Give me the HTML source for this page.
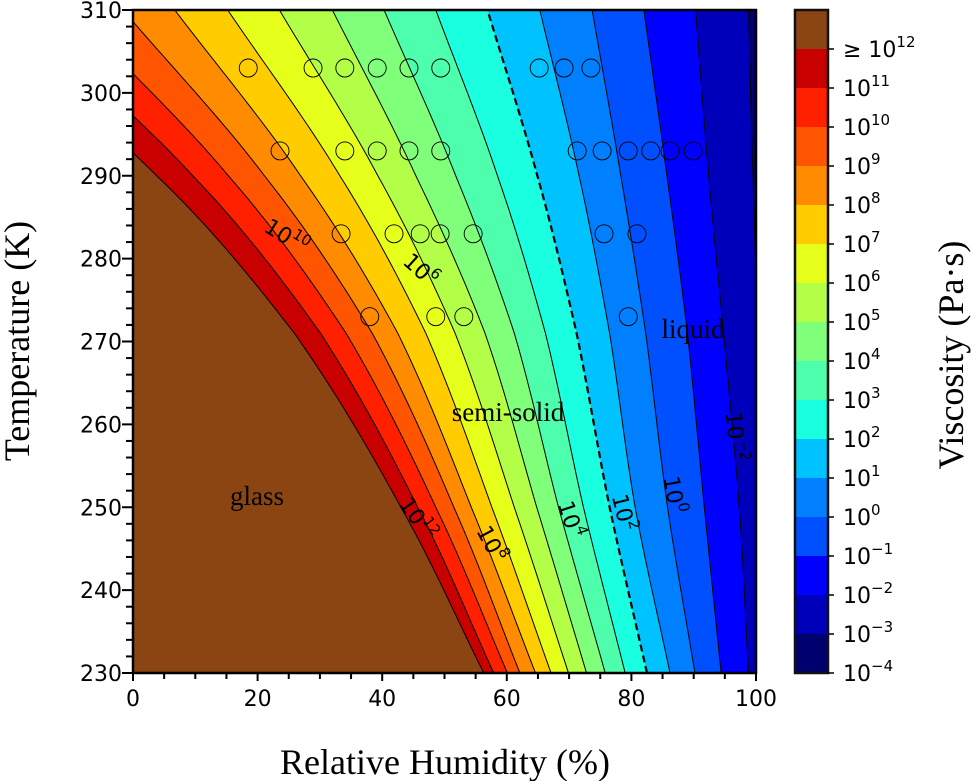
<!DOCTYPE html>
<html><head><meta charset="utf-8"><style>
html,body{margin:0;padding:0;background:#fff;}
svg{display:block;}
</style></head><body>
<svg id="chart" width="973" height="781" xmlns="http://www.w3.org/2000/svg">
<defs><clipPath id="plotclip"><rect x="133" y="10" width="623" height="663"/></clipPath></defs>
<g id="plot" clip-path="url(#plotclip)"></g>
<g id="labels"></g>
<g id="axes"></g>
<g id="cbar"></g>
<text x="445" y="774" text-anchor="middle" font-family="Liberation Serif, serif" font-size="36">Relative Humidity (%)</text>
<text transform="translate(29,341) rotate(-90)" text-anchor="middle" font-family="Liberation Serif, serif" font-size="36">Temperature (K)</text>
<text transform="translate(963,355) rotate(-90)" text-anchor="middle" font-family="Liberation Serif, serif" font-size="36">Viscosity (Pa·s)</text>
<text x="257" y="505" text-anchor="middle" font-family="Liberation Serif, serif" font-size="27">glass</text>
<text x="508" y="421" text-anchor="middle" font-family="Liberation Serif, serif" font-size="27">semi-solid</text>
<text x="693" y="338" text-anchor="middle" font-family="Liberation Serif, serif" font-size="27">liquid</text>
</svg>
<script>
// ---- data ----
const tSamples = [230, 250, 271, 290, 310];
const levels = [-3, -2, -1, 0, 1, 2, 3, 4, 5, 6, 7, 8, 9, 10, 11, 12];
const contourRH = [
  [103, 103, 100.5, 99.5, 98.8],
  [98.8, 97.3, 94.8, 92.4, 90.3],
  [94.4, 91.7, 89.0, 85.7, 82.0],
  [90.2, 85.8, 82.3, 78.3, 73.7],
  [86.2, 80.6, 76.5, 71.6, 65.3],
  [82.5, 76.5, 71.2, 64.9, 56.9],
  [79.0, 72.3, 66.2, 58.5, 48.6],
  [75.8, 68.3, 61.2, 51.8, 40.3],
  [72.8, 64.8, 56.5, 45.4, 32.0],
  [69.9, 61.2, 51.7, 39.3, 23.5],
  [67.1, 57.6, 47.0, 33.2, 15.2],
  [64.6, 54.3, 42.5, 26.9, 6.7],
  [62.1, 51.5, 38.4, 21.1, -1.6],
  [60.1, 48.6, 34.2, 15.3, -10],
  [57.9, 45.7, 30.1, 9.6, -18.5],
  [56.3, 43.0, 25.9, 3.8, -27]
];
const bandColors = ['#00006e','#0000bb','#0000ff','#0050ff','#0080ff','#00c2ff','#1affe0','#4dffad','#80ff7a','#b3ff47','#e6ff1a','#ffcc00','#ff8c00','#ff5500','#ff2000','#c80000','#8b4513'];
const cbarLabels = ['≥ 10|12','10|11','10|10','10|9','10|8','10|7','10|6','10|5','10|4','10|3','10|2','10|1','10|0','10|−1','10|−2','10|−3','10|−4'];
const pointRH = [18.5,28.9,34.0,39.2,44.3,49.4,65.2,69.2,73.5, 23.6,34.0,39.2,44.3,49.4,71.3,75.3,79.5,83.1,86.2,89.9, 33.4,41.9,46.1,49.3,54.6,75.6,80.9, 38.0,48.6,53.1,79.5];
const pointT = [303,303,303,303,303,303,303,303,303, 293,293,293,293,293,293,293,293,293,293,293, 283,283,283,283,283,283,283, 273,273,273,273];
const contourLabels = [
  {lvl:'10', sup:'10', rh:24.5, t:282.5, rot:32},
  {lvl:'10', sup:'6', rh:46.0, t:278.5, rot:42},
  {lvl:'10', sup:'12', rh:45.5, t:248.5, rot:55},
  {lvl:'10', sup:'8', rh:57.3, t:245.5, rot:62},
  {lvl:'10', sup:'4', rh:70.0, t:248.5, rot:72},
  {lvl:'10', sup:'2', rh:78.5, t:249.3, rot:76},
  {lvl:'10', sup:'0', rh:86.6, t:251.5, rot:80},
  {lvl:'10', sup:'−2', rh:96.5, t:258.5, rot:84}
];
// ---- scales ----
const X0=133, X1=756, Y0=673, Y1=10;
const xS = rh => X0 + (rh-0)/100*(X1-X0);
const yS = t => Y0 - (t-230)/80*(Y0-Y1);
const NS='http://www.w3.org/2000/svg';
function mk(tag, attrs, parent){const e=document.createElementNS(NS,tag);for(const k in attrs)e.setAttribute(k,attrs[k]);if(parent)parent.appendChild(e);return e;}
function interp(vals, t){
  let i=0; while(i<tSamples.length-2 && t>tSamples[i+1]) i++;
  const t0=tSamples[i], t1=tSamples[i+1]; const u=(t-t0)/(t1-t0);
  const p1=vals[i], p2=vals[i+1];
  const p0=i>0?vals[i-1]:2*p1-p2, p3=i+2<vals.length?vals[i+2]:2*p2-p1;
  return 0.5*((2*p1)+(-p0+p2)*u+(2*p0-5*p1+4*p2-p3)*u*u+(-p0+3*p1-3*p2+p3)*u*u*u);
}
function curvePts(vals){const pts=[];for(let k=0;k<=80;k++){const t=230+k;pts.push([xS(interp(vals,t)),yS(t)]);}return pts;}
const plot=document.getElementById('plot');
const bg=mk('rect',{x:X0,y:Y1,width:X1-X0,height:Y0-Y1,fill:bandColors[0]},plot);


levels.forEach((L,idx)=>{
  const pts=curvePts(contourRH[idx]);
  const poly=pts.map(p=>p.join(',')).concat([[60,Y1].join(','),[60,Y0].join(',')]).join(' ');
  const pg=mk('polygon',{points:poly,fill:bandColors[idx+1]},plot);
  
  
});
levels.forEach((L,idx)=>{
  const pts=curvePts(contourRH[idx]);
  const d='M'+pts.map(p=>p[0].toFixed(2)+' '+p[1].toFixed(2)).join(' L');
  const attrs={d:d,fill:'none',stroke:'#000','stroke-width':L===2?2.2:1};
  if(L===2) attrs['stroke-dasharray']='7,4';
  const pl=mk('path',attrs,plot);
  
  
});
pointRH.forEach((rh,i)=>{
  const c=mk('circle',{cx:xS(rh),cy:yS(pointT[i]),r:9,fill:'none',stroke:'#000','stroke-width':0.9},plot);
  
  
});
const labG=document.getElementById('labels');
contourLabels.forEach(cl=>{
  const tx=mk('text',{transform:`translate(${xS(cl.rh)},${yS(cl.t)}) rotate(${cl.rot})`,'text-anchor':'middle','dominant-baseline':'middle','font-family':'DejaVu Sans, sans-serif','font-size':22},labG);
  
  
  tx.appendChild(document.createTextNode(cl.lvl));
  const s=mk('tspan',{'font-size':15,dy:-9},tx); s.textContent=cl.sup;
});
// ---- axes ----
const ax=document.getElementById('axes');
const frame=mk('rect',{x:X0,y:Y1,width:X1-X0,height:Y0-Y1,fill:'none',stroke:'#000','stroke-width':2.5},ax);


for(let rh=0;rh<=100;rh+=5){
  const major=rh%20===0;
  mk('line',{x1:xS(rh),x2:xS(rh),y1:Y0,y2:Y0+(major?8:6),stroke:'#000','stroke-width':2},ax);
  if(major){const t=mk('text',{x:xS(rh),y:Y0+33,'text-anchor':'middle','font-family':'DejaVu Sans, sans-serif','font-size':22},ax);t.textContent=rh;
    
    }
}
for(let t=230;t<=310;t+=2){
  const major=t%10===0;
  mk('line',{x1:X0,x2:X0-(major?11:7),y1:yS(t),y2:yS(t),stroke:'#000','stroke-width':2},ax);
  if(major){const tx=mk('text',{x:X0-11,y:yS(t)+8,'text-anchor':'end','font-family':'DejaVu Sans, sans-serif','font-size':22},ax);tx.textContent=t;
    
    }
}
// ---- colorbar ----
const cb=document.getElementById('cbar');
const CBX=795, CBW=33, CBT=10, BH=39;
for(let k=0;k<17;k++){
  const r=mk('rect',{x:CBX,y:CBT+k*BH,width:CBW,height:BH+0.5,fill:bandColors[16-k]},cb);
  
  
}
const cbf=mk('rect',{x:CBX,y:CBT,width:CBW,height:17*BH,fill:'none',stroke:'#111','stroke-width':2.5},cb);


cbarLabels.forEach((lab,k)=>{
  const y=CBT+(k+1)*BH;
  mk('line',{x1:CBX+CBW,x2:CBX+CBW+6,y1:y,y2:y,stroke:'#000','stroke-width':1.5},cb);
  const [b,s]=lab.split('|');
  const tx=mk('text',{x:843,y:y+8,'font-family':'DejaVu Sans, sans-serif','font-size':22},cb);
  
  
  tx.appendChild(document.createTextNode(b));
  const sp=mk('tspan',{'font-size':15,dy:-10},tx); sp.textContent=s;
});
</script>
</body></html>
